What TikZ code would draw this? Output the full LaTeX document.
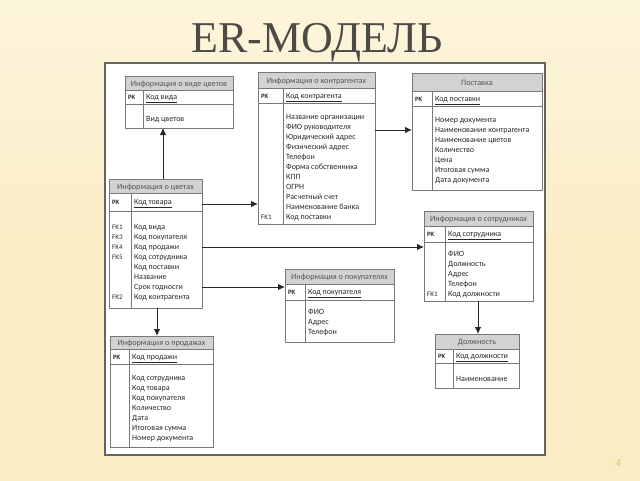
\documentclass[tikz,border=0pt]{standalone}
\usepackage{fontspec}
\setmainfont{Carlito}
\newfontfamily\titlefont{Liberation Serif}
\usetikzlibrary{arrows.meta}
\definecolor{bgcream}{RGB}{250,237,198}
\definecolor{bglight}{RGB}{253,245,220}
\definecolor{hdrgray}{RGB}{210,210,210}
\definecolor{bordergray}{RGB}{120,120,120}
\definecolor{panelborder}{RGB}{100,100,100}
\definecolor{txtdark}{RGB}{40,40,40}
\definecolor{hdrtxt}{RGB}{85,85,85}
\definecolor{titlecol}{RGB}{78,74,70}
\definecolor{numcol}{RGB}{226,192,100}
\tikzset{
  tblframe/.style={draw=bordergray, line width=0.9pt, fill=white, inner sep=0pt, outer sep=0pt, rectangle},
  hdrfill/.style={fill=hdrgray, draw=bordergray, line width=0.9pt},
  sepline/.style={draw=bordergray, line width=0.9pt},
  hdrtext/.style={font=\fontsize{8.2}{9}\selectfont, text=hdrtxt, inner sep=0pt, anchor=base},
  pktext/.style={font=\fontsize{6.6}{8}\selectfont\bfseries, text=txtdark, inner sep=0pt, anchor=base west},
  keytext/.style={font=\fontsize{8}{9}\selectfont, text=txtdark, inner sep=0pt, anchor=base west},
  bodyline/.style={font=\fontsize{8}{9}\selectfont, text=txtdark, inner sep=0pt, anchor=base west},
  fkline/.style={font=\fontsize{7}{8}\selectfont, text=txtdark, inner sep=0pt, anchor=base west},
  rel/.style={draw=black!85, line width=0.9pt, -{Latex[length=7pt,width=6.5pt]}},
  titletext/.style={font=\titlefont\fontsize{44}{48}\selectfont, text=titlecol, inner sep=0pt, anchor=base},
  pagenum/.style={font=\titlefont\fontsize{11}{12}\selectfont, text=numcol, inner sep=0pt},
}
% #1 name, #2 x1, #3 y1, #4 x2, #5 y2, #6 header bottom, #7 pk bottom, #8 divider x, #9 header text
\newcommand\ertable[9]{%
  \node[tblframe, anchor=north west, minimum width={(#4-#2)*1pt}, minimum height={(#5-#3)*1pt}] (#1) at (#2,#3) {};
  \filldraw[hdrfill] (#2,#3) rectangle (#4,#6);
  \draw[sepline] (#2,#7) -- (#4,#7);
  \draw[sepline] (#8,#6) -- (#8,#5);
  \node[hdrtext] (#1-hdr) at ({(#2+#4)/2},{(#3+#6)/2+3}) {#9};
  \node[pktext] (#1-pk) at ({#2+3},{(#6+#7)/2+2.5}) {PK};
  \def\erkx{#8}\def\erky{(#6+#7)/2+2.8}%
}
\begin{document}
\begin{tikzpicture}[x=1pt,y=-1pt]
\useasboundingbox (0,0) rectangle (640,480);
\shade[top color=bglight, bottom color=bgcream, middle color=bgcream] (0,0) rectangle (640,480);
\filldraw[fill=white, draw=panelborder, line width=1.2pt] (105,63) rectangle (545,455);
\node[titletext] (title) at (317,52) {ER-МОДЕЛЬ};
\node[pagenum] (page) at (618,463) {4};

% Информация о виде цветов
\ertable{vid}{125}{76}{233}{128}{90}{104}{143}{Информация о виде цветов}
\node[keytext] (vid-key) at ({\erkx+3},{\erky}) {\underline{Код вида}};
\node[bodyline] (vid-l0) at (146,121.5) {Вид цветов};

% Информация о контрагентах
\ertable{kontr}{258}{72}{375}{224}{88}{103}{283}{Информация о контрагентах}
\node[keytext] (kontr-key) at ({\erkx+3},{\erky}) {\underline{Код контрагента}};
\foreach \t [count=\i from 0] in {Название организации,ФИО руководителя,Юридический адрес,Физический адрес,Телефон,Форма собственника,КПП,ОГРН,Расчетный счет,Наименование банка,Код поставки}
  \node[bodyline] (kontr-l\i) at (286,{117+10*\i+2.5}) {\t};
\node[fkline] (kontr-fk1) at (261,219.5) {FK1};

% Поставка
\ertable{post}{412}{73}{542}{190}{91}{106}{432}{Поставка}
\node[keytext] (post-key) at ({\erkx+3},{\erky}) {\underline{Код поставки}};
\foreach \t [count=\i from 0] in {Номер документа,Наименование контрагента,Наименование цветов,Количество,Цена,Итоговая сумма,Дата документа}
  \node[bodyline] (post-l\i) at (435,{120+10*\i+2.5}) {\t};

% Информация о цветах
\ertable{tsvet}{109}{179}{202}{308}{193}{211}{131}{Информация о цветах}
\node[keytext] (tsvet-key) at ({\erkx+3},{\erky}) {\underline{Код товара}};
\foreach \t [count=\i from 0] in {Код вида,Код покупателя,Код продажи,Код сотрудника,Код поставки,Название,Срок годности,Код контрагента}
  \node[bodyline] (tsvet-l\i) at (134,{227+10*\i+2.5}) {\t};
\foreach \f/\i in {FK1/0,FK3/1,FK4/2,FK5/3,FK2/7}
  \node[fkline] (tsvet-\f) at (112,{227+10*\i+2.5}) {\f};

% Информация о сотрудниках
\ertable{sotr}{424}{211}{533}{301}{226}{242}{445}{Информация о сотрудниках}
\node[keytext] (sotr-key) at ({\erkx+3},{\erky}) {\underline{Код сотрудника}};
\foreach \t [count=\i from 0] in {ФИО,Должность,Адрес,Телефон,Код должности}
  \node[bodyline] (sotr-l\i) at (448,{254+10*\i+2.5}) {\t};
\node[fkline] (sotr-fk1) at (427,296.5) {FK1};

% Информация о покупателях
\ertable{pokup}{285}{269}{394}{342}{284}{300}{305}{Информация о покупателях}
\node[keytext] (pokup-key) at ({\erkx+3},{\erky}) {\underline{Код покупателя}};
\foreach \t [count=\i from 0] in {ФИО,Адрес,Телефон}
  \node[bodyline] (pokup-l\i) at (308,{312+10*\i+2.5}) {\t};

% Должность
\ertable{dolzh}{435}{334}{519}{388}{349}{363}{453}{Должность}
\node[keytext] (dolzh-key) at ({\erkx+3},{\erky}) {\underline{Код должности}};
\node[bodyline] (dolzh-l0) at (456,381.5) {Наименование};

% Информация о продажах
\ertable{prod}{110}{336}{213}{447}{349}{364}{129}{Информация о продажах}
\node[keytext] (prod-key) at ({\erkx+3},{\erky}) {\underline{Код продажи}};
\foreach \t [count=\i from 0] in {Код сотрудника,Код товара,Код покупателя,Количество,Дата,Итоговая сумма,Номер документа}
  \node[bodyline] (prod-l\i) at (132,{378+10*\i+2.5}) {\t};

% Связи
\path ([xshift=7.5pt]tsvet.north) coordinate (c-vid);
\draw[rel] (c-vid) -- (c-vid |- vid.south);
\path ([yshift=39.5pt]tsvet.east) coordinate (c-kontr);
\draw[rel] (c-kontr) -- (kontr.west |- c-kontr);
\path ([yshift=18pt]kontr.east) coordinate (c-post);
\draw[rel] (c-post) -- (post.west |- c-post);
\path ([yshift=-3.5pt]tsvet.east) coordinate (c-sotr);
\draw[rel] (c-sotr) -- (sotr.west |- c-sotr);
\path ([yshift=-43.5pt]tsvet.east) coordinate (c-pokup);
\draw[rel] (c-pokup) -- (pokup.west |- c-pokup);
\path ([xshift=1.5pt]tsvet.south) coordinate (c-prod);
\draw[rel] (c-prod) -- (c-prod |- prod.north);
\path ([xshift=-0.5pt]sotr.south) coordinate (c-dolzh);
\draw[rel] (c-dolzh) -- (c-dolzh |- dolzh.north);
\end{tikzpicture}
\end{document}
